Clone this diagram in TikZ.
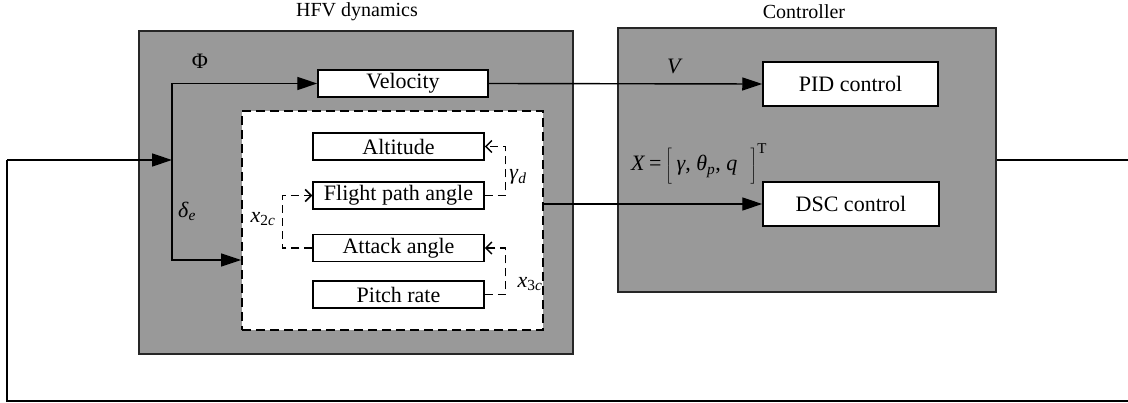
\documentclass[tikz,border=0pt]{standalone}
\usepackage{fontspec}
\setmainfont{Liberation Serif}
\usetikzlibrary{arrows.meta}
\definecolor{boxgray}{RGB}{153,153,153}
\begin{document}
\begin{tikzpicture}[x=1pt,y=-1pt,
  every node/.style={font=\fontsize{22}{26}\selectfont},
  graybox/.style={draw=black!85,line width=1.5pt,fill=boxgray},
  wbox/.style={draw=black,line width=1.5pt,fill=white,inner sep=0pt},
  dbox/.style={draw=black,line width=1.8pt,fill=white,dash pattern=on 9pt off 5pt},
  flow/.style={line width=1.4pt,-{Triangle[length=20pt,width=13pt]}},
  plain/.style={line width=1.4pt},
  brk/.style={line width=1.4pt,dash pattern=on 8pt off 5pt,-{Straight Barb[length=6pt,width=12pt,line width=1.5pt]}},
  lab/.style={inner sep=0pt},
  ttl/.style={inner sep=0pt,font=\fontsize{20}{24}\selectfont}]
\useasboundingbox (0,0) rectangle (1128,403);
\fill[white] (0,0) rectangle (1128,403);
% containers
\node[graybox,minimum width=434pt,minimum height=323pt,inner sep=0pt] (hfv) at (356,192.5) {};
\node[graybox,minimum width=378pt,minimum height=264pt,inner sep=0pt] (ctl) at (807,160) {};
\node[ttl] (thfv) at (357,12) {HFV dynamics};
\node[ttl] (tctl) at (804,12) {Controller};
\node[dbox,minimum width=301pt,minimum height=219pt,inner sep=0pt] (inner) at (392.5,220.5) {};
% boxes
\node[wbox,minimum width=170pt,minimum height=27pt] (vel) at (403,83.5) {Velocity};
\node[wbox,minimum width=171pt,minimum height=27pt] (alt) at (398.5,146.5) {Altitude};
\node[wbox,minimum width=171pt,minimum height=27pt] (fpa) at (398.5,195.5) {Flight path angle};
\node[wbox,minimum width=171pt,minimum height=27pt] (att) at (398.5,248) {Attack angle};
\node[wbox,minimum width=171pt,minimum height=27pt] (pit) at (398.5,294.5) {Pitch rate};
\node[wbox,minimum width=175pt,minimum height=44pt] (pid) at (850.5,84) {PID control};
\node[wbox,minimum width=176pt,minimum height=44pt] (dsc) at (851,204) {DSC control};
% labels
\node[lab] (phi) at (200,61) {Φ};
\node[lab] (de) at (187,211) {\textit{δ}\textsubscript{\textit{e}}};
\node[lab] (gd) at (518,177) {\textit{γ}\textsubscript{\textit{d}}};
\node[lab] (x2) at (263,219) {\textit{x}\textsubscript{2\textit{c}}};
\node[lab] (x3) at (530,284) {\textit{x}\textsubscript{3\textit{c}}};
\node[lab] (vl) at (675,66) {\textit{V}};
\node[lab,anchor=west] (xl) at (631,164) {\textit{X}\,=\,$\left[\rule[-13pt]{0pt}{38pt}\right.$\,\textit{γ}, \textit{θ}\textsubscript{\textit{p}}, \textit{q}\;\;$\left.\rule[-13pt]{0pt}{38pt}\right]$\raisebox{17pt}{\fontsize{15}{18}\selectfont T}};
% coordinates
\coordinate (split) at (172,160);
\coordinate (fbR) at (1131,160);
\coordinate (fbRB) at (1131,401);
\coordinate (fbLB) at (7,401);
\coordinate (fbL) at (7,160);
% connectors
\draw[flow] (split) |- (vel.west);
\draw[flow] (split) |- (inner.west |- 0,260);
\draw[flow] (vel.east) -- (pid.west);
\draw[flow] (inner.east |- dsc.west) -- (dsc.west);
\draw[plain] (ctl.east |- split) -- (fbR) -- (fbRB) -- (fbLB) -- (fbL);
\draw[flow] (fbL) -- (split);
% dashed brackets
\draw[brk] (fpa.east) -- ++(21,0) |- (alt.east);
\draw[brk] (att.west) -- ++(-30,0) |- (fpa.west);
\draw[brk] (pit.east) -- ++(21,0) |- (att.east);
\end{tikzpicture}
\end{document}
